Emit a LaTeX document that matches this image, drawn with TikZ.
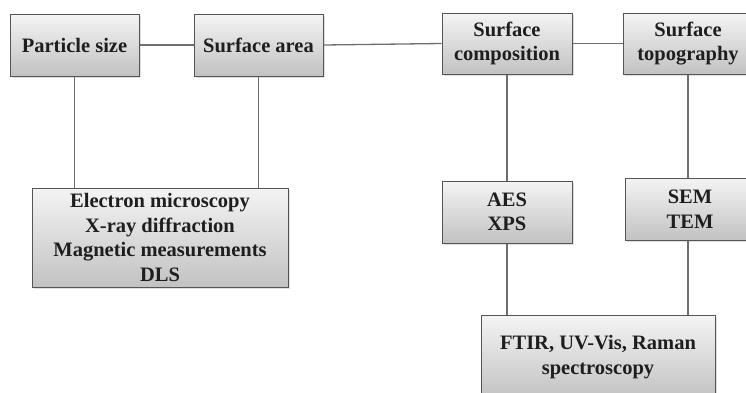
\documentclass[tikz,border=0pt]{standalone}
\usepackage{fontspec}
\setmainfont{Liberation Serif}
\usetikzlibrary{shadows}
\definecolor{boxtop}{HTML}{F4F4F4}
\definecolor{boxbot}{HTML}{C2C2C2}
\definecolor{boxline}{HTML}{555555}
\definecolor{linkc}{HTML}{6E6E6E}
\definecolor{txt}{HTML}{1E1E1E}
\begin{document}
\begin{tikzpicture}[x=1pt,y=-1pt,
  box/.style={draw=boxline, line width=1pt, top color=boxtop, bottom color=boxbot,
    drop shadow={opacity=0.25, shadow xshift=1.5pt, shadow yshift=-2pt},
    align=center, inner sep=0pt, text=txt,
    font=\fontsize{20.5}{24.5}\selectfont\bfseries},
  link/.style={draw=linkc, line width=1.3pt}]
\useasboundingbox (0,0) rectangle (746,392);
\clip (0,0) rectangle (746,392);
\node[box, minimum width=129pt, minimum height=62pt] (ps) at (74.5,45) {Particle size};
\node[box, minimum width=129pt, minimum height=62pt] (sa) at (258.5,45) {Surface area};
\node[box, minimum width=130pt, minimum height=61pt] (sc) at (507,43.5) {Surface\\composition};
\node[box, minimum width=130pt, minimum height=61pt] (st) at (688,43.5) {Surface\\topography};
\node[box, minimum width=256pt, minimum height=99pt] (big) at (160,237.5) {Electron microscopy\\X-ray diffraction\\Magnetic measurements\\DLS};
\node[box, minimum width=130pt, minimum height=62pt] (aes) at (507,212) {AES\\XPS};
\node[box, minimum width=129pt, minimum height=62pt] (sem) at (690,209) {SEM\\TEM};
\node[box, minimum width=234pt, minimum height=84pt] (ftir) at (598,357) {FTIR, UV-Vis, Raman\\spectroscopy};
\draw[link] (ps.east) -- (sa.west);
\draw[link] (sa.east) -- (sc.west);
\draw[link] (sc.east) -- (st.west);
\draw[link] (ps.south) -- (ps.south |- big.north);
\draw[link] (sa.south) -- (sa.south |- big.north);
\draw[link] (sc.south) -- (aes.north);
\draw[link] (st.south) -- (st.south |- sem.north);
\draw[link] (aes.south) -- (aes.south |- ftir.north);
\draw[link] (st.south |- sem.south) -- (st.south |- ftir.north);
\end{tikzpicture}
\end{document}
